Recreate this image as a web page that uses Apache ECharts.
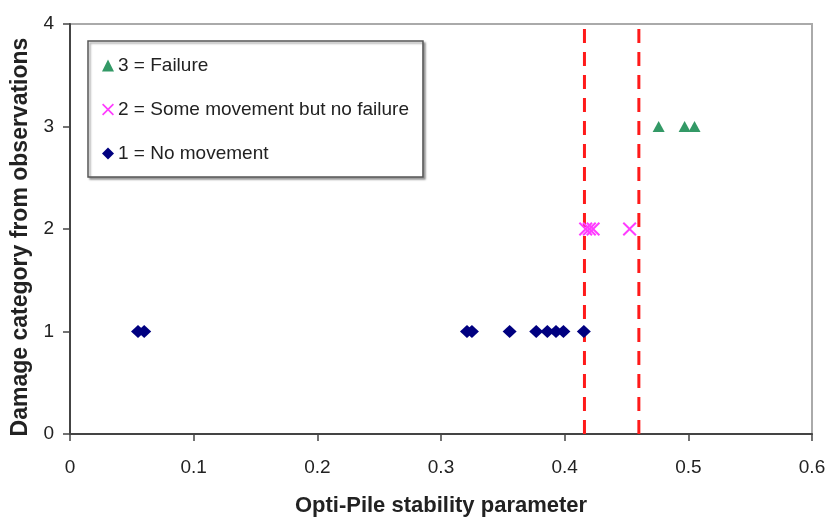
<!DOCTYPE html>
<html>
<head>
<meta charset="utf-8">
<script src="https://cdn.jsdelivr.net/npm/echarts@6/dist/echarts.min.js"></script>
<style>html,body{margin:0;padding:0;background:#fff}#c{width:828px;height:519px}</style>
</head>
<body>
<div id="c"></div>
<script>
const failureX = [0.476, 0.497, 0.505];
const failureY = [3, 3, 3];
const someX = [0.417, 0.420, 0.423, 0.4525];
const someY = [2, 2, 2, 2];
const noneX = [0.055, 0.060, 0.321, 0.325, 0.3555, 0.377, 0.386, 0.393, 0.399, 0.4155];
const noneY = [1, 1, 1, 1, 1, 1, 1, 1, 1, 1];
const thresholds = [0.416, 0.46];
const xTicks = [0, 0.1, 0.2, 0.3, 0.4, 0.5, 0.6];
const yTicks = [0, 1, 2, 3, 4];
const names = ['3 = Failure', '2 = Some movement but no failure', '1 = No movement'];

const xPath = 'path://M0,1L1,0L5,4L9,0L10,1L6,5L10,9L9,10L5,6L1,10L0,9L4,5Z';
const zip = (a, b) => a.map((v, i) => [v, b[i]]);
const font = 'Liberation Sans, Arial, sans-serif';

const series = [
  { name: names[0], type: 'scatter', data: zip(failureX, failureY), symbol: 'triangle', symbolSize: [12, 11], itemStyle: { color: '#339966', opacity: 1 }, z: 5 },
  { name: names[1], type: 'scatter', data: zip(someX, someY), symbol: xPath, symbolSize: 14, itemStyle: { color: '#ff3cff', opacity: 1 }, z: 5 },
  { name: names[2], type: 'scatter', data: zip(noneX, noneY), symbol: 'diamond', symbolSize: [14, 13], itemStyle: { color: '#000080', opacity: 1 }, z: 5 }
];
thresholds.forEach(t => {
  series.push({ type: 'line', data: [[t, 0], [t, 4]], symbol: 'none', silent: true, z: 3,
    lineStyle: { color: '#ff1a1a', width: 3, type: [14, 9] } });
});

const chart = echarts.init(document.getElementById('c'));
chart.setOption({
  animation: false,
  backgroundColor: '#fff',
  grid: { left: 70, right: 16, top: 24, bottom: 85, outerBoundsMode: 'none', containLabel: false,
    show: true, borderColor: '#aaaaaa', borderWidth: 2, backgroundColor: 'transparent' },
  legend: {
    data: names, orient: 'vertical', left: 88, top: 41,
    padding: [15, 14, 14, 14], itemGap: 25, itemWidth: 12, itemHeight: 12,
    backgroundColor: '#fff', borderColor: '#555', borderWidth: 1.5,
    shadowColor: 'rgba(0,0,0,0.35)', shadowOffsetX: 2, shadowOffsetY: 2, shadowBlur: 2,
    textStyle: { fontFamily: font, fontSize: 19, color: '#222', padding: [0, 0, 0, -1] },
    selectedMode: false
  },
  xAxis: {
    type: 'value', min: 0, max: 0.6, interval: 0.1,
    name: 'Opti-Pile stability parameter', nameLocation: 'middle', nameGap: 61,
    nameTextStyle: { fontFamily: font, fontSize: 22, fontWeight: 'bold', color: '#222' },
    axisLine: { show: true, onZero: false, lineStyle: { color: '#444', width: 2 } },
    axisTick: { show: true, length: 7, lineStyle: { color: '#444', width: 1.5 } },
    axisLabel: { fontFamily: font, fontSize: 19, color: '#222', margin: 24, formatter: v => String(+v.toFixed(1)) },
    splitLine: { show: false }
  },
  yAxis: {
    type: 'value', min: 0, max: 4, interval: 1,
    name: 'Damage category from observations', nameLocation: 'middle', nameGap: 38, nameMoveOverlap: false,
    nameTextStyle: { fontFamily: font, fontSize: 23, fontWeight: 'bold', color: '#222', padding: [0, 16, 0, 0] },
    axisLine: { show: true, lineStyle: { color: '#444', width: 2 } },
    axisTick: { show: true, length: 7, lineStyle: { color: '#444', width: 1.5 } },
    axisLabel: { fontFamily: font, fontSize: 19, color: '#222', margin: 16 },
    splitLine: { show: false }
  },
  series: series
});
</script>
</body>
</html>
